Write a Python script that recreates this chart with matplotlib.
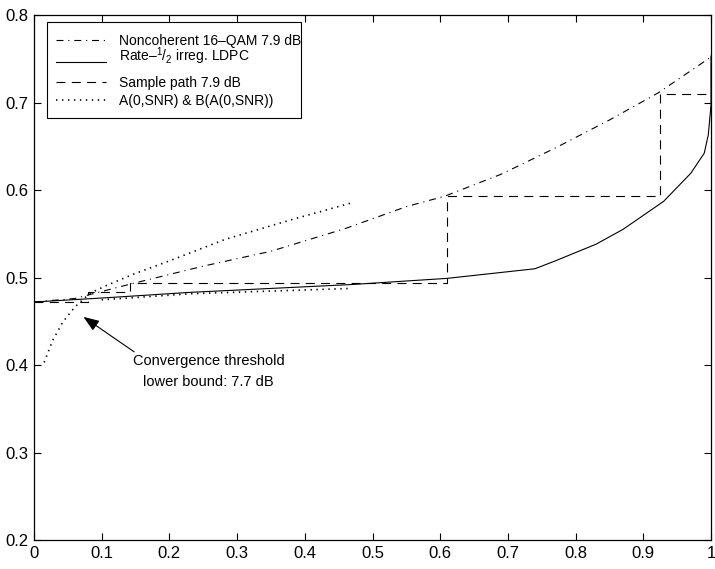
import matplotlib
matplotlib.use("Agg")
import matplotlib.pyplot as plt
from matplotlib.patches import Rectangle
from matplotlib.lines import Line2D

# ---------------- data ----------------
nc_x = [0.0, 0.06, 0.11, 0.145, 0.25, 0.35, 0.46, 0.55, 0.607, 0.69, 0.77, 0.85, 0.922, 1.0]
nc_y = [0.472, 0.476, 0.486, 0.493, 0.513, 0.530, 0.556, 0.581, 0.593, 0.618, 0.648, 0.680, 0.711, 0.752]

ldpc_x = [0.0, 0.11, 0.23, 0.47, 0.61, 0.74, 0.77, 0.83, 0.87, 0.93, 0.97, 0.99, 0.996, 1.0, 1.0]
ldpc_y = [0.472, 0.477, 0.483, 0.492, 0.499, 0.510, 0.519, 0.538, 0.555, 0.587, 0.619, 0.642, 0.663, 0.697, 0.753]

sp_x = [0.0, 0.08, 0.08, 0.1425, 0.1425, 0.61, 0.61, 0.925, 0.925, 1.0]
sp_y = [0.472, 0.472, 0.483, 0.483, 0.494, 0.494, 0.593, 0.593, 0.710, 0.710]

a_x = [0.015, 0.0275, 0.0425, 0.06, 0.0825, 0.1075, 0.1475, 0.2, 0.282, 0.38, 0.4725]
a_y = [0.403, 0.428, 0.449, 0.466, 0.482, 0.491, 0.504, 0.519, 0.5435, 0.566, 0.586]

b_x = [0.10, 0.2325, 0.4675]
b_y = [0.4745, 0.4815, 0.4875]

labels = ["Noncoherent 16\u2013QAM 7.9 dB",
          "Rate\u2013" + r"$^{1}$/$_{2}$ irreg. LDPC",
          "Sample path 7.9 dB",
          "A(0,SNR) & B(A(0,SNR))"]
annot_lines = ["Convergence threshold", "lower bound: 7.7 dB"]
annot_tip = (0.073, 0.455)
annot_tail = (0.148, 0.415)

xticks = [0, 0.1, 0.2, 0.3, 0.4, 0.5, 0.6, 0.7, 0.8, 0.9, 1]
xticklabels = ["0", "0.1", "0.2", "0.3", "0.4", "0.5", "0.6", "0.7", "0.8", "0.9", "1"]
yticks = [0.2, 0.3, 0.4, 0.5, 0.6, 0.7, 0.8]
yticklabels = ["0.2", "0.3", "0.4", "0.5", "0.6", "0.7", "0.8"]

# ---------------- style ----------------
plt.rcParams['font.family'] = ['Liberation Sans', 'DejaVu Sans']
plt.rcParams['mathtext.fontset'] = 'custom'
plt.rcParams['mathtext.rm'] = 'Liberation Sans'
plt.rcParams['mathtext.it'] = 'Liberation Sans'
plt.rcParams['lines.scale_dashes'] = False
FS_TICK = 12
FS_LEG = 10
FS_ANN = 10.5
LW = 0.8
DASHDOT = (0, (5.0, 3.5, 0.8, 3.5))
DASHED = (0, (6.5, 4.5))
DOTTED = (0, (1.0, 3.3))

fig = plt.figure(figsize=(7.15, 5.69), dpi=100)
W, H = 715, 569
L, R, T, B = 34, 711, 15, 540
ax = fig.add_axes([L / W, (H - B) / H, (R - L) / W, (B - T) / H])

ax.plot(nc_x, nc_y, color='black', lw=LW, linestyle=DASHDOT)
ax.plot(ldpc_x, ldpc_y, color='black', lw=LW, linestyle='-')
ax.plot(sp_x, sp_y, color='black', lw=LW, linestyle=DASHED)
ax.plot(a_x, a_y, color='black', lw=1.2, linestyle=DOTTED)
ax.plot(b_x, b_y, color='black', lw=1.2, linestyle=DOTTED)

ax.set_xlim(0, 1)
ax.set_ylim(0.2, 0.8)
ax.set_xticks(xticks)
ax.set_xticklabels(xticklabels, fontsize=FS_TICK)
ax.set_yticks(yticks)
ax.set_yticklabels(yticklabels, fontsize=FS_TICK)
ax.tick_params(direction='in', length=5, width=0.8, top=True, right=True)
ax.tick_params(axis='y', pad=4)
ax.tick_params(axis='x', pad=4)
for s in ax.spines.values():
    s.set_linewidth(0.9)

# annotation
ax.annotate('', xy=annot_tip, xytext=annot_tail,
            arrowprops=dict(arrowstyle='-|>,head_length=0.8,head_width=0.3',
                            color='black', lw=0.8, shrinkA=0, shrinkB=0,
                            mutation_scale=12))
ax.text(0.258, 0.400, annot_lines[0], ha='center', va='baseline', fontsize=FS_ANN)
ax.text(0.258, 0.376, annot_lines[1], ha='center', va='baseline', fontsize=FS_ANN)

# manual legend (MATLAB style)
def fx(px):
    return (px - L) / (R - L)

def fy(py):
    return (B - py) / (B - T)

ax.add_patch(Rectangle((fx(47), fy(118)), fx(301) - fx(47), fy(22) - fy(118),
                       transform=ax.transAxes, facecolor='white',
                       edgecolor='black', lw=0.8, zorder=5))
styles = [DASHDOT, '-', DASHED, DOTTED]
widths = [LW, LW, LW, 1.2]
line_y = [40, 62, 82, 100]
text_y = [45, 61, 87, 105]
for lab, st, w, ly, ty in zip(labels, styles, widths, line_y, text_y):
    ax.add_line(Line2D([fx(56), fx(106)], [fy(ly), fy(ly)], transform=ax.transAxes,
                       color='black', lw=w, linestyle=st, zorder=6))
    ax.text(fx(119), fy(ty), lab, transform=ax.transAxes, ha='left',
            va='baseline', fontsize=FS_LEG, zorder=6)

fig.savefig('out.png', dpi=100)
